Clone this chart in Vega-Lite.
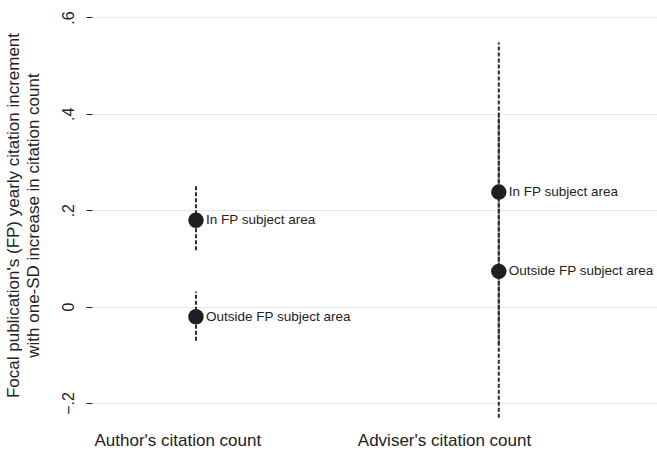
{
  "$schema": "https://vega.github.io/schema/vega-lite/v6.json",
  "autosize": "none",
  "width": 565,
  "height": 424,
  "padding": {"left": 92, "top": 3, "right": 0, "bottom": 33},
  "background": "white",
  "config": {
    "view": {"stroke": null},
    "font": "Liberation Sans"
  },
  "data": {
    "values": [
      {"regressor": "Author's citation count", "area": "In FP subject area", "pos": 0.184, "est": 0.179, "lo": 0.117, "hi": 0.252},
      {"regressor": "Author's citation count", "area": "Outside FP subject area", "pos": 0.184, "est": -0.021, "lo": -0.071, "hi": 0.031},
      {"regressor": "Adviser's citation count", "area": "In FP subject area", "pos": 0.72, "est": 0.2375, "lo": -0.079, "hi": 0.548},
      {"regressor": "Adviser's citation count", "area": "Outside FP subject area", "pos": 0.72, "est": 0.073, "lo": -0.231, "hi": 0.396}
    ]
  },
  "encoding": {
    "x": {
      "field": "pos",
      "type": "quantitative",
      "scale": {"domain": [0, 1], "nice": false, "zero": false},
      "axis": {
        "title": null,
        "values": [0.151, 0.623],
        "labelExpr": "datum.value < 0.4 ? \"Author's citation count\" : \"Adviser's citation count\"",
        "domain": false,
        "ticks": false,
        "grid": false,
        "labelFontSize": 17,
        "labelColor": "#222222",
        "labelPadding": 5,
        "labelFont": "Liberation Sans"
      }
    }
  },
  "layer": [
    {
      "mark": {"type": "rule", "strokeDash": [4, 2], "strokeWidth": 2, "color": "#2a2a2a"},
      "encoding": {
        "y": {
          "field": "lo",
          "type": "quantitative",
          "scale": {"domain": [-0.25, 0.63], "nice": false, "zero": false},
          "axis": {
            "title": ["Focal publication's (FP) yearly citation increment", "with one-SD increase in citation count"],
            "titleFontSize": 17,
            "titleFontWeight": "normal",
            "titleColor": "#222222",
            "titleFont": "Liberation Sans",
            "titlePadding": 18,
            "titleLineHeight": 20,
            "values": [-0.2, 0, 0.2, 0.4, 0.6],
            "labelExpr": "datum.value == 0 ? '0' : replace(format(datum.value, '.1f'), '0.', '.')",
            "labelAngle": 270,
            "labelAlign": "center",
            "labelBaseline": "bottom",
            "labelFontSize": 16,
            "labelColor": "#222222",
            "labelPadding": 10,
            "labelFont": "Liberation Sans",
            "domain": false,
            "tickSize": 6,
            "tickColor": "#222222",
            "tickWidth": 1,
            "grid": true,
            "gridColor": "#e6e6e6",
            "gridWidth": 1
          }
        },
        "y2": {"field": "hi"}
      }
    },
    {
      "mark": {"type": "point", "filled": true, "size": 240, "color": "#1f1f1f", "opacity": 1, "shape": "circle"},
      "encoding": {
        "y": {"field": "est", "type": "quantitative"}
      }
    },
    {
      "mark": {"type": "text", "align": "left", "baseline": "middle", "dx": 10, "fontSize": 13.5, "color": "#222222", "font": "Liberation Sans"},
      "encoding": {
        "y": {"field": "est", "type": "quantitative"},
        "text": {"field": "area"}
      }
    }
  ]
}
